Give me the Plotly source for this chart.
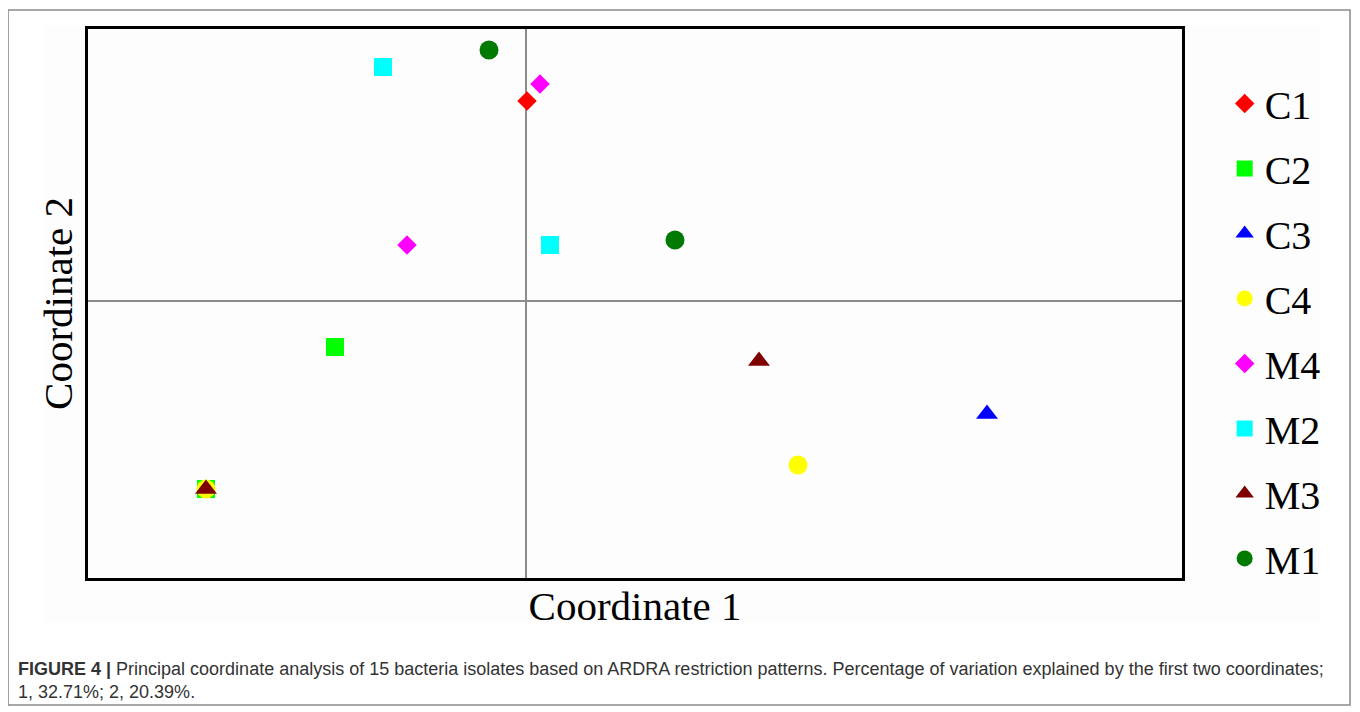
import plotly.graph_objects as go

# Data (PCoA coordinates)
groups = ["C1", "C2", "C3", "C4", "M4", "M2", "M3", "M1"]
x_C1 = [0.001]
y_C1 = [0.200]
x_C2 = [-0.191, -0.320]
y_C2 = [-0.046, -0.188]
x_C3 = [0.461]
y_C3 = [-0.113]
x_C4 = [0.272, -0.320]
y_C4 = [-0.164, -0.188]
x_M4 = [0.014, -0.119]
y_M4 = [0.217, 0.056]
x_M2 = [-0.143, 0.024]
y_M2 = [0.234, 0.056]
x_M3 = [0.233, -0.320]
y_M3 = [-0.060, -0.188]
x_M1 = [-0.037, 0.149]
y_M1 = [0.251, 0.061]

xs = [x_C1, x_C2, x_C3, x_C4, x_M4, x_M2, x_M3, x_M1]
ys = [y_C1, y_C2, y_C3, y_C4, y_M4, y_M2, y_M3, y_M1]
colors = ["#ff0000", "#00ff00", "#0000ff", "#ffff00", "#ff00ff", "#00ffff", "#7f0000", "#007a00"]
symbols = ["diamond", "square", "triangle-up", "circle", "diamond", "square", "triangle-up", "circle"]
sizes = [15, 18, 19, 19, 15, 18, 19, 19]

fig = go.Figure()
for i, g in enumerate(groups):
    fig.add_trace(go.Scatter(
        x=xs[i], y=ys[i], mode="markers", name=g, legendgroup=g,
        marker=dict(color=colors[i], symbol=symbols[i], size=sizes[i], line=dict(width=0)),
    ))

serif = "Liberation Serif, Times New Roman, serif"
fig.update_layout(
    width=1352, height=704,
    margin=dict(l=80, r=178, t=21, b=134),
    paper_bgcolor="white", plot_bgcolor="white",
    showlegend=True,
    legend=dict(
        x=1.039, y=0.45, xanchor="left", yanchor="middle",
        font=dict(family=serif, size=40, color="black"),
        tracegroupgap=10, itemwidth=30, bgcolor="rgba(0,0,0,0)",
    ),
    xaxis=dict(
        range=[-0.438, 0.656], showgrid=False, showticklabels=False, ticks="",
        zeroline=True, zerolinecolor="#8c8c8c", zerolinewidth=1.5,
        showline=True, linecolor="black", linewidth=3, mirror=True,
        title=dict(text="Coordinate 1", font=dict(family=serif, size=41, color="black"), standoff=12),
    ),
    yaxis=dict(
        range=[-0.277, 0.272], showgrid=False, showticklabels=False, ticks="",
        zeroline=True, zerolinecolor="#8c8c8c", zerolinewidth=1.5,
        showline=True, linecolor="black", linewidth=3, mirror=True,
        title=dict(text="Coordinate 2", font=dict(family=serif, size=41, color="black"), standoff=0),
    ),
    shapes=[
        dict(type="rect", xref="paper", yref="paper", x0=-0.0731, x1=1.1536, y0=-0.2313, y1=1.0346,
             line=dict(color="#8a8a8a", width=1.5), fillcolor="rgba(0,0,0,0)", layer="below"),
        dict(type="rect", xref="paper", yref="paper", x0=-0.0393, x1=1.1261, y0=-0.0802, y1=1.0055,
             line=dict(width=0), fillcolor="#fdfdfd", layer="below"),
    ],
    annotations=[
        dict(xref="paper", yref="paper", x=-0.0658, y=-0.143, xanchor="left", yanchor="top", align="left",
             showarrow=False,
             text="<b>FIGURE 4 |</b> Principal coordinate analysis of 15 bacteria isolates based on ARDRA restriction patterns. Percentage of variation explained by the first two coordinates;<br>1, 32.71%; 2, 20.39%.",
             font=dict(family="Liberation Sans, Arial, sans-serif", size=18, color="#333333")),
    ],
)

fig.write_html("out.html")
